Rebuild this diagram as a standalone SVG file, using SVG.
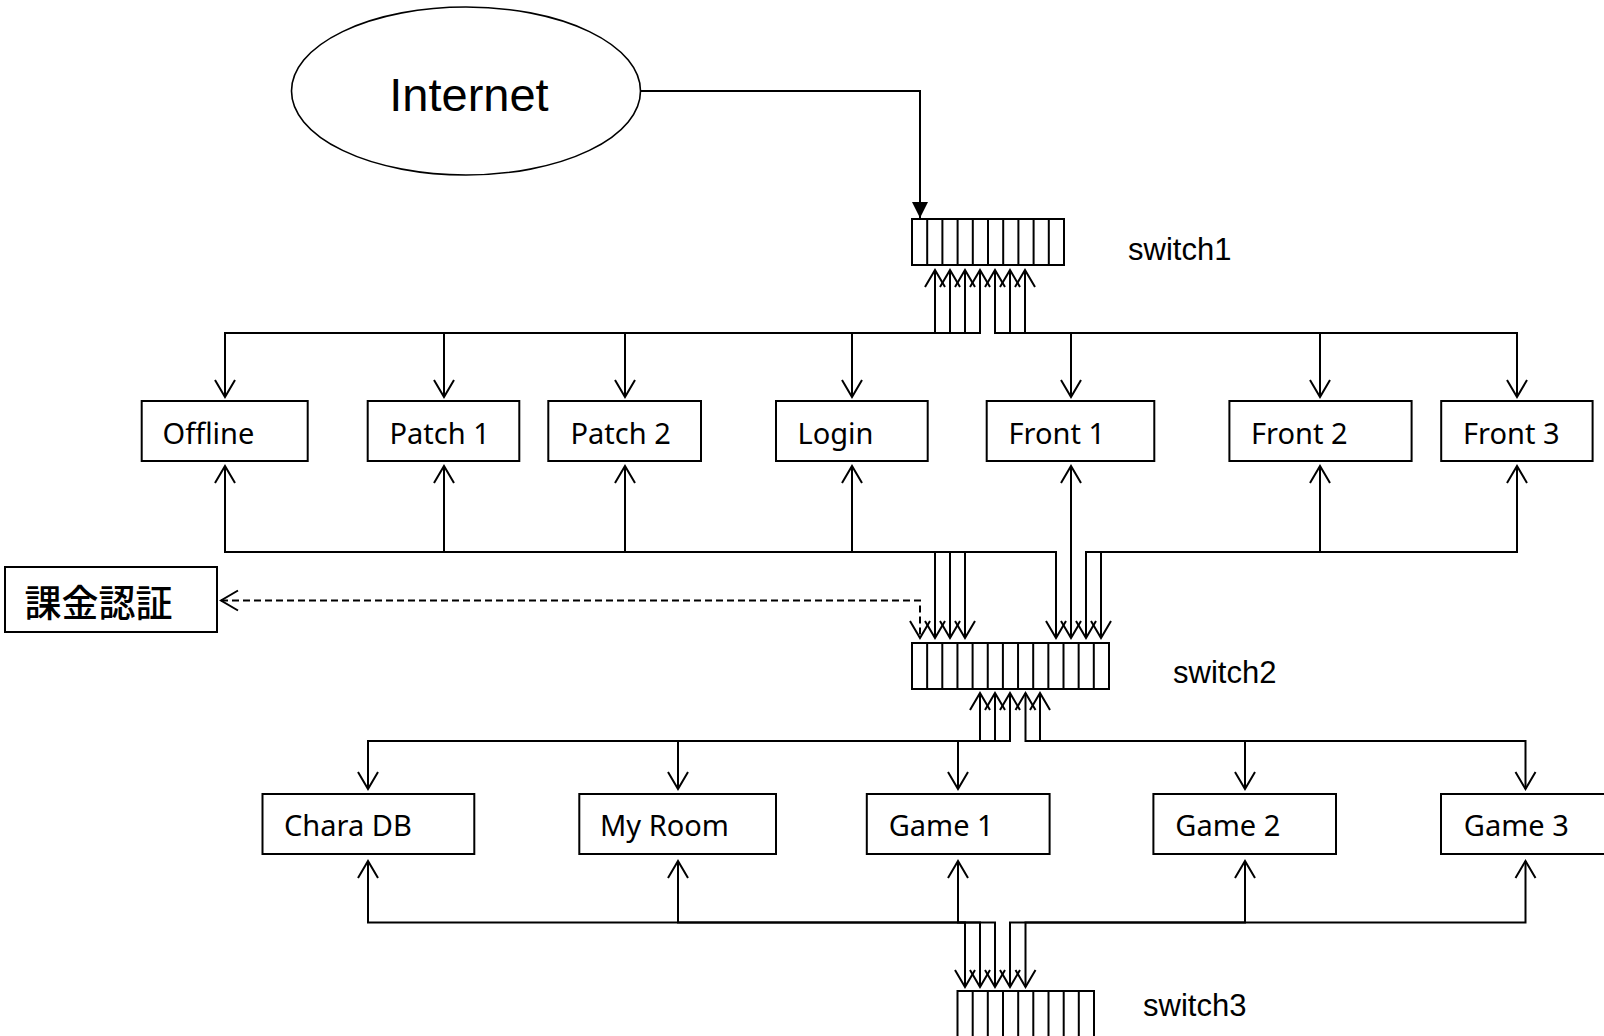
<svg xmlns="http://www.w3.org/2000/svg" width="1604" height="1036" viewBox="0 0 1604 1036">
<style>
.box{fill:#fff;stroke:#000;stroke-width:2}
.lbl{font-family:"Noto Sans","DejaVu Sans",sans-serif;font-size:29px;fill:#000}
.sw{font-family:"Liberation Sans",Arial,sans-serif;font-size:31px;fill:#000}
.cell{fill:none;stroke:#000;stroke-width:2}
.conn{fill:none;stroke:#000;stroke-width:2;marker-start:url(#open);marker-end:url(#open)}
.dash{stroke-dasharray:7 4}
</style>
<defs>
<marker id="open" viewBox="-20 -12 24 24" markerWidth="24" markerHeight="24" refX="0" refY="0" orient="auto-start-reverse" markerUnits="userSpaceOnUse" overflow="visible">
<path d="M-17,-10 L0,0 L-17,10" fill="none" stroke="#000" stroke-width="2"/>
</marker>
<marker id="solid" viewBox="-18 -10 20 20" markerWidth="20" markerHeight="20" refX="0" refY="0" orient="auto" markerUnits="userSpaceOnUse" overflow="visible">
<path d="M-16,-8 L0,0 L-16,8 Z" fill="#000"/>
</marker>
</defs>
<rect width="1604" height="1036" fill="#fff"/>

<g id="connectors">
<path d="M641,91 H920 V218" fill="none" stroke="#000" stroke-width="2" marker-end="url(#solid)"/>
<path class="conn" d="M225,397 V333 H935 V270"/>
<path class="conn" d="M444,397 V333 H950 V270"/>
<path class="conn" d="M625,397 V333 H965 V270"/>
<path class="conn" d="M852,397 V333 H980 V270"/>
<path class="conn" d="M1071,397 V333 H995 V270"/>
<path class="conn" d="M1320,397 V333 H1010 V270"/>
<path class="conn" d="M1517,397 V333 H1025 V270"/>
<path class="conn" d="M225,466 V552 H935 V638"/>
<path class="conn" d="M444,466 V552 H950 V638"/>
<path class="conn" d="M625,466 V552 H965 V638"/>
<path class="conn" d="M852,466 V552 H1056 V638"/>
<path class="conn" d="M1071,466 V638"/>
<path class="conn" d="M1320,466 V552 H1086 V638"/>
<path class="conn" d="M1517,466 V552 H1101 V638"/>
<path class="conn dash" d="M221,600.5 H920 V638"/>
<path class="conn" d="M368,789 V741 H980 V693"/>
<path class="conn" d="M678,789 V741 H995 V693"/>
<path class="conn" d="M958,789 V741 H1010 V693"/>
<path class="conn" d="M1245,789 V741 H1025.5 V693"/>
<path class="conn" d="M1525.5,789 V741 H1040 V693"/>
<path class="conn" d="M368,861 V922.5 H965 V987"/>
<path class="conn" d="M678,861 V922.5 H980 V987"/>
<path class="conn" d="M958,861 V922.5 H995 V987"/>
<path class="conn" d="M1245,861 V922.5 H1010 V987"/>
<path class="conn" d="M1525.5,861 V922.5 H1025.5 V987"/>
</g>

<g id="internet">
<ellipse cx="466" cy="91" rx="174.5" ry="84" fill="#fff" stroke="#000" stroke-width="1.6"/>
<text x="469" y="111" text-anchor="middle" style="font-family:'Liberation Sans',Arial,sans-serif;font-size:47px">Internet</text>
</g>

<g id="switch1">
<rect class="cell" x="912" y="219" width="152" height="46"/>
<path class="cell" d="M927.2,219V265M942.4,219V265M957.6,219V265M972.8,219V265M988,219V265M1003.2,219V265M1018.4,219V265M1033.6,219V265M1048.8,219V265"/>
<text class="sw" x="1128" y="260">switch1</text>
</g>

<g id="switch2">
<rect class="cell" x="912" y="643" width="197" height="46"/>
<path class="cell" d="M927.15,643V689M942.3,643V689M957.45,643V689M972.6,643V689M987.75,643V689M1002.9,643V689M1018.05,643V689M1033.2,643V689M1048.35,643V689M1063.5,643V689M1078.65,643V689M1093.8,643V689"/>
<text class="sw" x="1173" y="683">switch2</text>
</g>

<g id="switch3">
<rect class="cell" x="957.5" y="991" width="136.5" height="46"/>
<path class="cell" d="M972.7,991V1037M987.8,991V1037M1003,991V1037M1018.2,991V1037M1033.3,991V1037M1048.5,991V1037M1063.7,991V1037M1078.8,991V1037"/>
<text class="sw" x="1143" y="1016">switch3</text>
</g>

<g id="billing">
<rect class="box" x="5" y="567" width="212" height="65"/>
<text x="98.5" y="617" text-anchor="middle" style="font-family:'Noto Sans CJK JP','Noto Sans CJK SC',sans-serif;font-size:37px;font-weight:500">課金認証</text>
</g>

<g id="offline"><rect class="box" x="141.7" y="401" width="166" height="60"/><text class="lbl" x="162.5" y="444">Offline</text></g>
<g id="patch1"><rect class="box" x="367.7" y="401" width="151.6" height="60"/><text class="lbl" x="389.5" y="444">Patch 1</text></g>
<g id="patch2"><rect class="box" x="548.3" y="401" width="152.7" height="60"/><text class="lbl" x="570.5" y="444">Patch 2</text></g>
<g id="login"><rect class="box" x="776" y="401" width="151.7" height="60"/><text class="lbl" x="797.5" y="444">Login</text></g>
<g id="front1"><rect class="box" x="986.7" y="401" width="167.6" height="60"/><text class="lbl" x="1008.5" y="444">Front 1</text></g>
<g id="front2"><rect class="box" x="1229.4" y="401" width="182.2" height="60"/><text class="lbl" x="1251" y="444">Front 2</text></g>
<g id="front3"><rect class="box" x="1441.2" y="401" width="151.4" height="60"/><text class="lbl" x="1463" y="444">Front 3</text></g>

<g id="charadb"><rect class="box" x="262.5" y="794" width="211.8" height="60"/><text class="lbl" x="284" y="836">Chara DB</text></g>
<g id="myroom"><rect class="box" x="579.3" y="794" width="196.7" height="60"/><text class="lbl" x="600" y="836">My Room</text></g>
<g id="game1"><rect class="box" x="866.8" y="794" width="182.8" height="60"/><text class="lbl" x="888.7" y="836">Game 1</text></g>
<g id="game2"><rect class="box" x="1153.4" y="794" width="182.6" height="60"/><text class="lbl" x="1175.3" y="836">Game 2</text></g>
<g id="game3"><rect class="box" x="1441" y="794" width="169" height="60"/><text class="lbl" x="1463.8" y="836">Game 3</text></g>
</svg>
